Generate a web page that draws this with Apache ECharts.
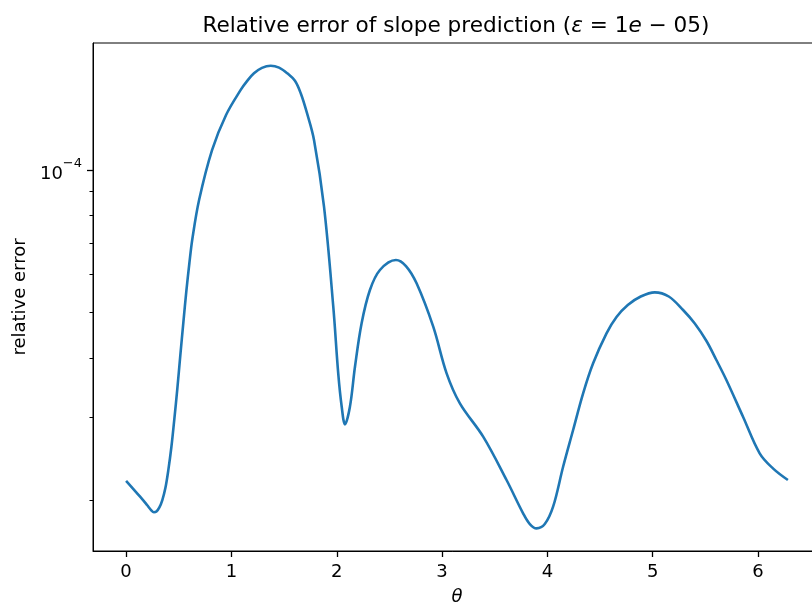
<!DOCTYPE html>
<html>
<head>
<meta charset="utf-8">
<script src="https://cdn.jsdelivr.net/npm/echarts@6/dist/echarts.min.js"></script>
<style>
  html, body { margin: 0; padding: 0; background: #ffffff; }
  #chart { width: 812px; height: 602px; }
</style>
</head>
<body>
<div id="chart"></div>
<script>
// Angle samples (radians) along the curve
const theta = [
  0.000, 0.133, 0.199, 0.237, 0.264, 0.288, 0.316, 0.344, 0.373, 0.401,
  0.430, 0.458, 0.487, 0.515, 0.544, 0.572, 0.601, 0.629, 0.693, 0.816,
  0.949, 1.088, 1.148, 1.214, 1.290, 1.373, 1.452, 1.530, 1.603, 1.658,
  1.717, 1.784, 1.879, 1.967, 2.014, 2.047, 2.078, 2.125, 2.173, 2.236,
  2.315, 2.410, 2.562, 2.657, 2.758, 2.916, 3.043, 3.169, 3.390, 3.612,
  3.769, 3.833, 3.897, 3.975, 4.054, 4.149, 4.244, 4.339, 4.434, 4.561,
  4.656, 4.763, 4.886, 5.019, 5.152, 5.288, 5.399, 5.510, 5.604, 5.699,
  5.857, 6.015, 6.141, 6.283
];

// Relative error of the predicted slope at each angle
const relError = [
  2.196e-5, 2.032e-5, 1.951e-5, 1.904e-5, 1.883e-5, 1.890e-5, 1.928e-5, 1.999e-5, 2.119e-5, 2.313e-5,
  2.589e-5, 2.968e-5, 3.452e-5, 4.055e-5, 4.764e-5, 5.540e-5, 6.353e-5, 7.143e-5, 8.639e-5, 1.102e-4,
  1.308e-4, 1.478e-4, 1.543e-4, 1.603e-4, 1.646e-4, 1.663e-4, 1.648e-4, 1.603e-4, 1.545e-4, 1.454e-4,
  1.321e-4, 1.158e-4, 8.360e-5, 5.133e-5, 3.709e-5, 3.151e-5, 2.892e-5, 3.151e-5, 3.830e-5, 4.734e-5,
  5.568e-5, 6.139e-5, 6.446e-5, 6.260e-5, 5.753e-5, 4.656e-5, 3.709e-5, 3.203e-5, 2.723e-5, 2.204e-5,
  1.874e-5, 1.778e-5, 1.741e-5, 1.778e-5, 1.935e-5, 2.351e-5, 2.813e-5, 3.364e-5, 3.895e-5, 4.508e-5,
  4.882e-5, 5.176e-5, 5.395e-5, 5.506e-5, 5.395e-5, 5.051e-5, 4.729e-5, 4.342e-5, 3.958e-5, 3.590e-5,
  3.001e-5, 2.511e-5, 2.333e-5, 2.204e-5
];

// Axis ticks
const xTicks = [0, 1, 2, 3, 4, 5, 6];
const yMajorTicks = [1e-4];
const yMinorTicks = [2e-5, 3e-5, 4e-5, 5e-5, 6e-5, 7e-5, 8e-5, 9e-5];

// Axis ranges
const xRange = [-0.31416, 6.59734];
const yRange = [1.559e-5, 1.858e-4];

const FONT = 'DejaVu Sans';
const TICK_FS = 18;
const TITLE_FS = 21.6;

const chart = echarts.init(document.getElementById('chart'), null, { renderer: 'canvas' });

const seriesData = theta.map((t, i) => [t, relError[i]]);

chart.setOption({
  animation: false,
  backgroundColor: '#ffffff',
  textStyle: { fontFamily: FONT },
  title: {
    left: 451,
    top: 10,
    textAlign: 'center',
    text: '{n|Relative error of slope prediction (}{i|ε}{n| = 1}{i|e}{n| − 05)}',
    textStyle: {
      fontWeight: 'normal',
      rich: {
        n: { fontFamily: FONT, fontSize: TITLE_FS, fontWeight: 'normal', color: '#000' },
        i: { fontFamily: FONT, fontSize: TITLE_FS, fontWeight: 'normal', fontStyle: 'italic', color: '#000' }
      }
    }
  },
  grid: {
    left: 93,
    right: -9,
    top: 43,
    bottom: 51,
    show: true,
    borderColor: '#000',
    borderWidth: 1,
    backgroundColor: 'transparent',
    containLabel: false,
    outerBoundsMode: 'none'
  },
  xAxis: {
    type: 'value',
    min: xRange[0],
    max: xRange[1],
    name: 'θ',
    nameLocation: 'middle',
    nameGap: 37,
    nameTextStyle: { fontFamily: FONT, fontSize: TICK_FS, fontStyle: 'italic', color: '#000' },
    axisLine: { show: true, onZero: false, lineStyle: { color: '#000', width: 1 } },
    axisTick: { show: true, length: 6, customValues: xTicks, lineStyle: { color: '#000', width: 1.3 } },
    axisLabel: {
      customValues: xTicks,
      margin: 12,
      fontFamily: FONT,
      fontSize: TICK_FS,
      color: '#000',
      formatter: v => String(Math.round(v))
    },
    splitLine: { show: false }
  },
  yAxis: [
    {
      type: 'log',
      logBase: 10,
      min: yRange[0],
      max: yRange[1],
      name: 'relative error',
      nameLocation: 'middle',
      nameGap: 64,
      nameRotate: 90,
      nameTextStyle: { fontFamily: FONT, fontSize: TICK_FS, color: '#000' },
      axisLine: { show: true, onZero: false, lineStyle: { color: '#000', width: 1 } },
      axisTick: { show: true, length: 6, customValues: yMajorTicks, lineStyle: { color: '#000', width: 1.3 } },
      axisLabel: {
        customValues: yMajorTicks,
        margin: 11,
        color: '#000',
        formatter: v => '{b|10}{s|−' + Math.round(-Math.log10(v)) + '}',
        rich: {
          b: { fontFamily: FONT, fontSize: TICK_FS, color: '#000', lineHeight: 26, verticalAlign: 'bottom' },
          s: { fontFamily: FONT, fontSize: 13, color: '#000', lineHeight: 26, verticalAlign: 'top' }
        }
      },
      splitLine: { show: false },
      minorTick: { show: false },
      minorSplitLine: { show: false }
    },
    {
      type: 'log',
      logBase: 10,
      min: yRange[0],
      max: yRange[1],
      position: 'left',
      axisLine: { show: false, onZero: false },
      axisTick: { show: true, length: 3.5, customValues: yMinorTicks, lineStyle: { color: '#000', width: 1 } },
      axisLabel: { show: false, customValues: yMinorTicks },
      splitLine: { show: false }
    }
  ],
  series: [
    {
      type: 'line',
      data: seriesData,
      xAxisIndex: 0,
      yAxisIndex: 0,
      showSymbol: false,
      smooth: 0.35,
      clip: true,
      lineStyle: { color: '#1f77b4', width: 2.6 },
      itemStyle: { color: '#1f77b4' }
    }
  ]
});
</script>
</body>
</html>
